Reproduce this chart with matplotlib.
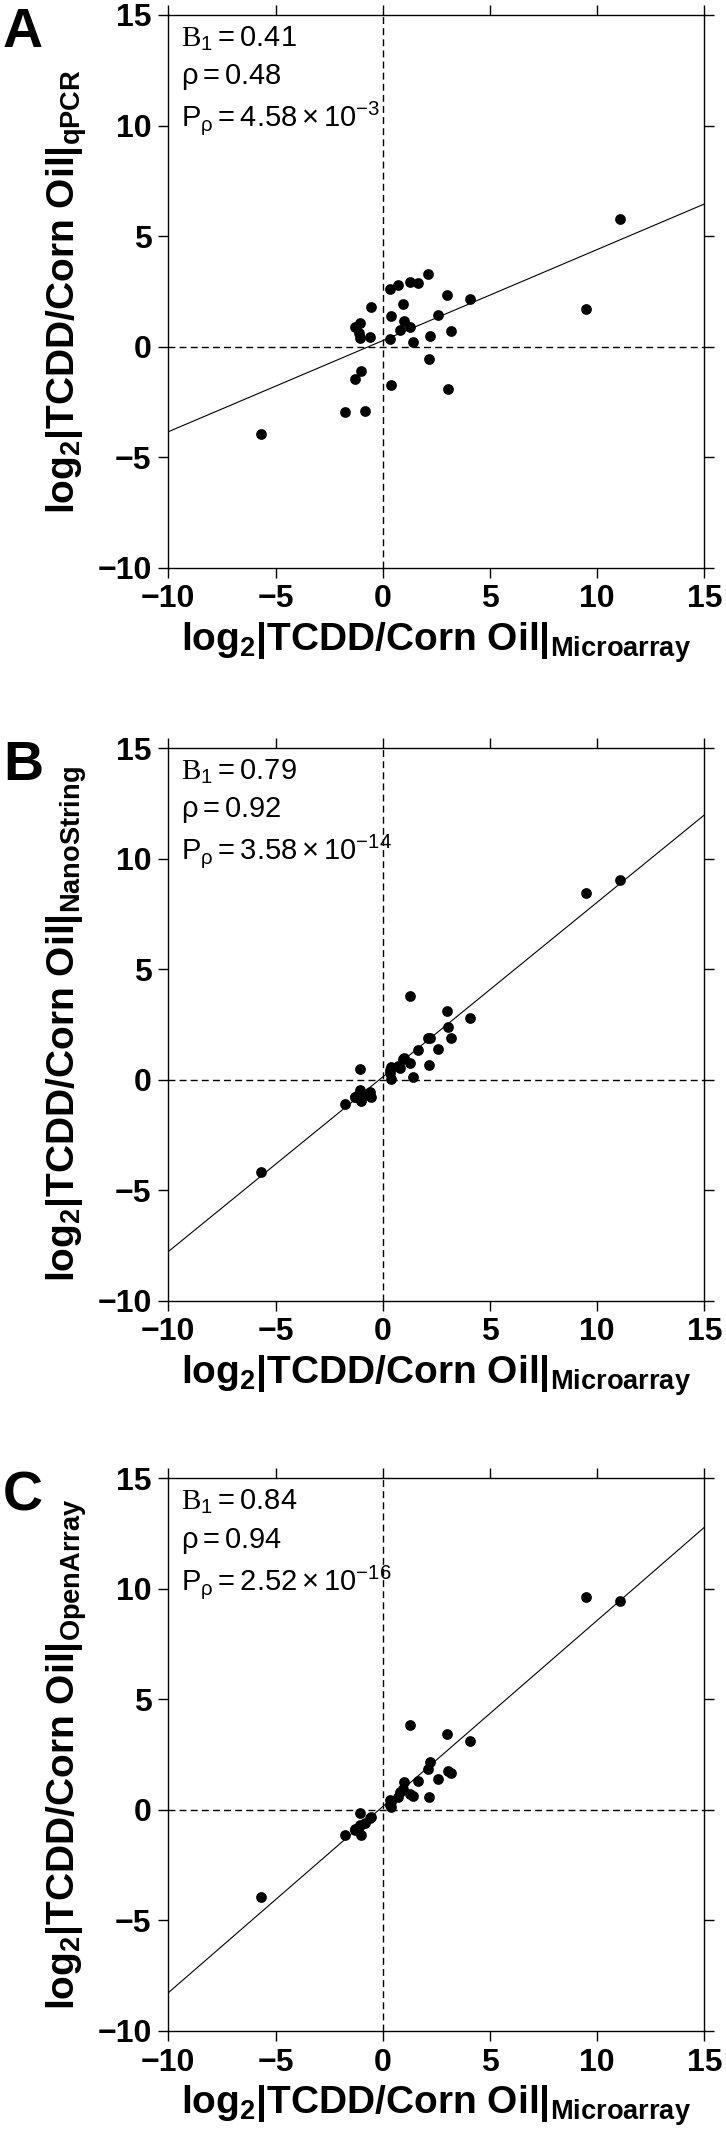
import numpy as np
import matplotlib
matplotlib.use("Agg")
import matplotlib.pyplot as plt

plt.rcParams['font.family'] = ['Liberation Sans', 'DejaVu Sans']
plt.rcParams['mathtext.fontset'] = 'custom'
plt.rcParams['mathtext.rm'] = 'Liberation Sans'
plt.rcParams['mathtext.it'] = 'Liberation Sans'
plt.rcParams['mathtext.bf'] = 'Liberation Sans:bold'
plt.rcParams['mathtext.sf'] = 'Liberation Serif'
plt.rcParams['mathtext.default'] = 'regular'

# microarray log2 fold changes (shared x for all panels)
microarray = [-5.66, -1.77, -0.82, -1.29, -1.01, 0.40, 3.03, 2.15, 1.42, 0.33, 2.21,
              3.17, -1.07, -0.58, -1.10, -1.28, -1.04, 0.81, 1.28, 1.01, 0.37, 2.60,
              -0.53, 0.96, 4.06, 3.00, 0.36, 0.70, 1.28, 1.63, 2.10, 9.46, 11.06]
qpcr = [-3.94, -2.96, -2.90, -1.48, -1.12, -1.72, -1.93, -0.54, 0.23, 0.35, 0.50,
        0.69, 0.41, 0.42, 0.60, 0.87, 1.07, 0.74, 0.87, 1.18, 1.39, 1.45,
        1.81, 1.92, 2.14, 2.35, 2.62, 2.79, 2.93, 2.88, 3.29, 1.72, 5.77]
nanostring = [-4.16, -1.10, -0.70, -0.80, -0.95, 0.05, 2.40, 0.68, 0.11, 0.29, 1.86,
              1.87, -0.47, -0.54, -0.65, -0.77, 0.48, 0.51, 0.75, 0.97, 0.56, 1.39,
              -0.80, 0.95, 2.78, 3.11, 0.45, 0.60, 3.76, 1.33, 1.86, 8.44, 9.02]
openarray = [-3.95, -1.15, -0.60, -0.90, -1.15, 0.15, 1.78, 0.60, 0.65, 0.20, 2.17,
             1.69, -0.68, -0.38, -0.75, -0.85, -0.15, 0.83, 0.72, 1.27, 0.38, 1.42,
             -0.30, 0.95, 3.11, 3.45, 0.45, 0.60, 3.86, 1.31, 1.84, 9.61, 9.46]

panel_letters = ["A", "B", "C"]
platforms = ["qPCR", "NanoString", "OpenArray"]
series = [qpcr, nanostring, openarray]
slopes = [0.412, 0.79, 0.842]
intercepts = [0.27, 0.12, 0.15]
b1_text = ["0.41", "0.79", "0.84"]
rho_text = ["0.48", "0.92", "0.94"]
p_mant = ["4.58", "3.58", "2.52"]
p_exp = ["-3", "-14", "-16"]

ticks = [-10, -5, 0, 5, 10, 15]

W, H = 726, 2138
fig = plt.figure(figsize=(W / 100, H / 100), dpi=100)

# axes boxes in pixels: left, top, right, bottom
boxes = [(168.3, 15, 704.3, 567.7), (168.3, 748, 704.3, 1300.7), (168.3, 1478.3, 704.3, 2031)]

for i in range(3):
    l, t, r, b = boxes[i]
    ax = fig.add_axes([l / W, 1 - b / H, (r - l) / W, (b - t) / H])
    ax.set_xlim(-10, 15)
    ax.set_ylim(-10, 15)
    ax.set_xticks(ticks)
    ax.set_yticks(ticks)
    ax.tick_params(direction='out', top=True, right=True, length=7, width=1,
                   labelsize=23, pad=5)
    for lab in ax.get_xticklabels() + ax.get_yticklabels():
        lab.set_fontweight('bold')
    for s in ax.spines.values():
        s.set_linewidth(1)

    ax.axhline(0, color='black', lw=1, ls=(0, (5, 3)))
    ax.axvline(0, color='black', lw=1, ls=(0, (5, 3)))

    xs = np.array([-10, 15])
    ax.plot(xs, intercepts[i] + slopes[i] * xs, color='black', lw=0.8)

    ax.scatter(microarray, series[i], s=60, color='black', zorder=3, linewidths=0)

    ax.set_xlabel(r"$\mathbf{log_2|TCDD/Corn\ Oil|_{Microarray}}$", fontsize=28, labelpad=4)
    ax.set_ylabel(r"$\mathbf{log_2|TCDD/Corn\ Oil|_{%s}}$" % platforms[i], fontsize=28, labelpad=6)

    ax.text(0.024, 0.958, r"$\mathsf{B}_1 = %s$" % b1_text[i], transform=ax.transAxes,
            fontsize=21, va='center', ha='left')
    ax.text(0.024, 0.887, r"$\rho = %s$" % rho_text[i], transform=ax.transAxes,
            fontsize=21, va='center', ha='left')
    ax.text(0.024, 0.813, r"$P_{\rho} = %s\times10^{%s}$" % (p_mant[i], p_exp[i]),
            transform=ax.transAxes, fontsize=21, va='center', ha='left')

    fig.text(3 / W, 1 - (t - 8) / H, panel_letters[i], fontsize=40, fontweight='bold',
             va='top', ha='left')

fig.savefig("out.png", dpi=100)
